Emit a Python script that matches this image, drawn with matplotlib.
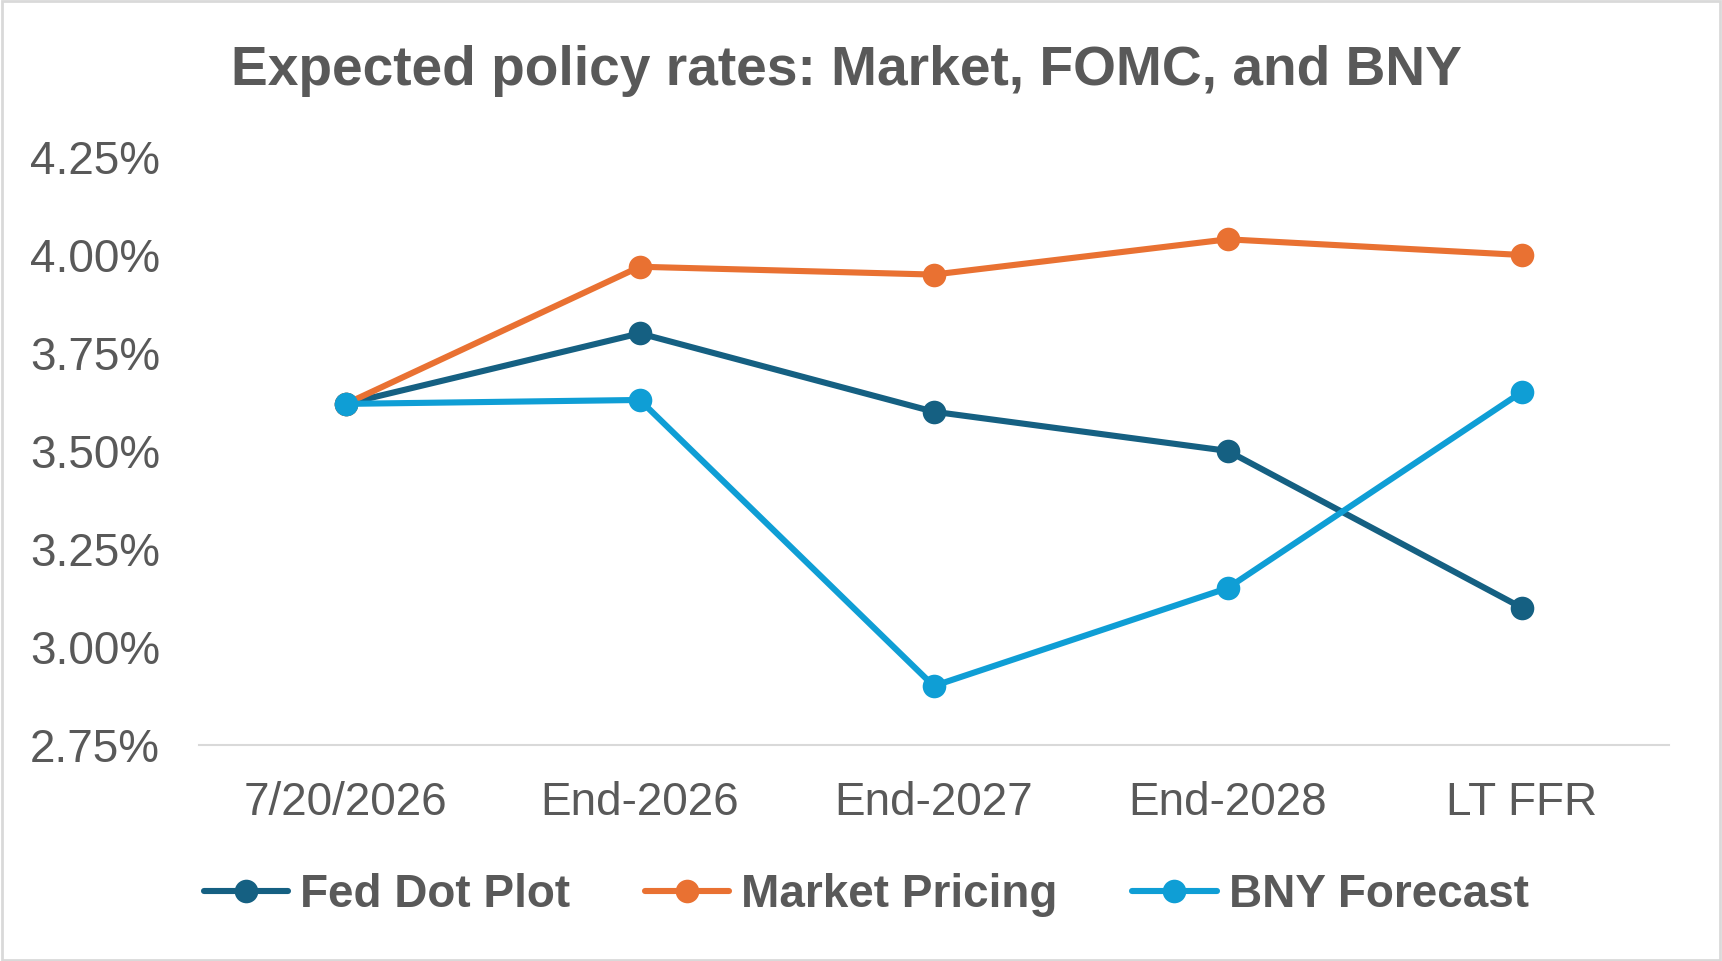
import matplotlib
matplotlib.use("Agg")
import matplotlib.pyplot as plt
from matplotlib.patches import Rectangle
from matplotlib.ticker import FuncFormatter

categories = ["7/20/2026", "End-2026", "End-2027", "End-2028", "LT FFR"]
fed_dot_plot = [3.62, 3.80, 3.60, 3.50, 3.10]
market_pricing = [3.62, 3.97, 3.95, 4.04, 4.00]
bny_forecast = [3.62, 3.63, 2.90, 3.15, 3.65]
y_ticks = [2.75, 3.00, 3.25, 3.50, 3.75, 4.00, 4.25]

plt.rcParams['font.family'] = ['Liberation Sans', 'DejaVu Sans']
gray = '#595959'

fig = plt.figure(figsize=(17.22, 9.61), dpi=100)
ax = fig.add_axes([0.1155, 0.225, 0.8535, 0.6116])

x = list(range(len(categories)))
series = [
    ("Fed Dot Plot", fed_dot_plot, '#156082'),
    ("Market Pricing", market_pricing, '#E97132'),
    ("BNY Forecast", bny_forecast, '#0F9ED5'),
]
for name, vals, col in series:
    ax.plot(x, vals, color=col, lw=4.4, marker='o', markersize=17,
            markeredgewidth=0, label=name, solid_capstyle='round')

ax.set_xlim(-0.5, len(categories) - 0.5)
ax.set_ylim(2.75, 4.25)
ax.set_yticks(y_ticks)
ax.yaxis.set_major_formatter(FuncFormatter(lambda v, p: f"{v:.2f}%"))
ax.set_xticks(x)
ax.set_xticklabels(categories)
ax.tick_params(axis='both', length=0, labelsize=33, labelcolor=gray)
ax.tick_params(axis='x', pad=26)
ax.tick_params(axis='y', pad=28)
for s in ['top', 'right', 'left']:
    ax.spines[s].set_visible(False)
ax.spines['bottom'].set_color('#D9D9D9')
ax.spines['bottom'].set_linewidth(1.5)
for l in ax.lines:
    l.set_clip_on(False)

fig.text(0.4915, 0.926, "Expected policy rates: Market, FOMC, and BNY",
         ha='center', va='center', fontsize=39.7, fontweight='bold', color=gray)

leg = fig.legend(loc='center', bbox_to_anchor=(0.503, 0.069), ncol=3,
                 frameon=False, handlelength=1.85, handletextpad=0.26,
                 columnspacing=1.62, prop={'size': 33, 'weight': 'bold'})
for t in leg.get_texts():
    t.set_color(gray)

fig.patches.append(Rectangle((0.001, 0.001), 0.998, 0.998, transform=fig.transFigure,
                             fill=False, edgecolor='#D9D9D9', lw=2))

fig.savefig("out.png", dpi=100, facecolor='white')
